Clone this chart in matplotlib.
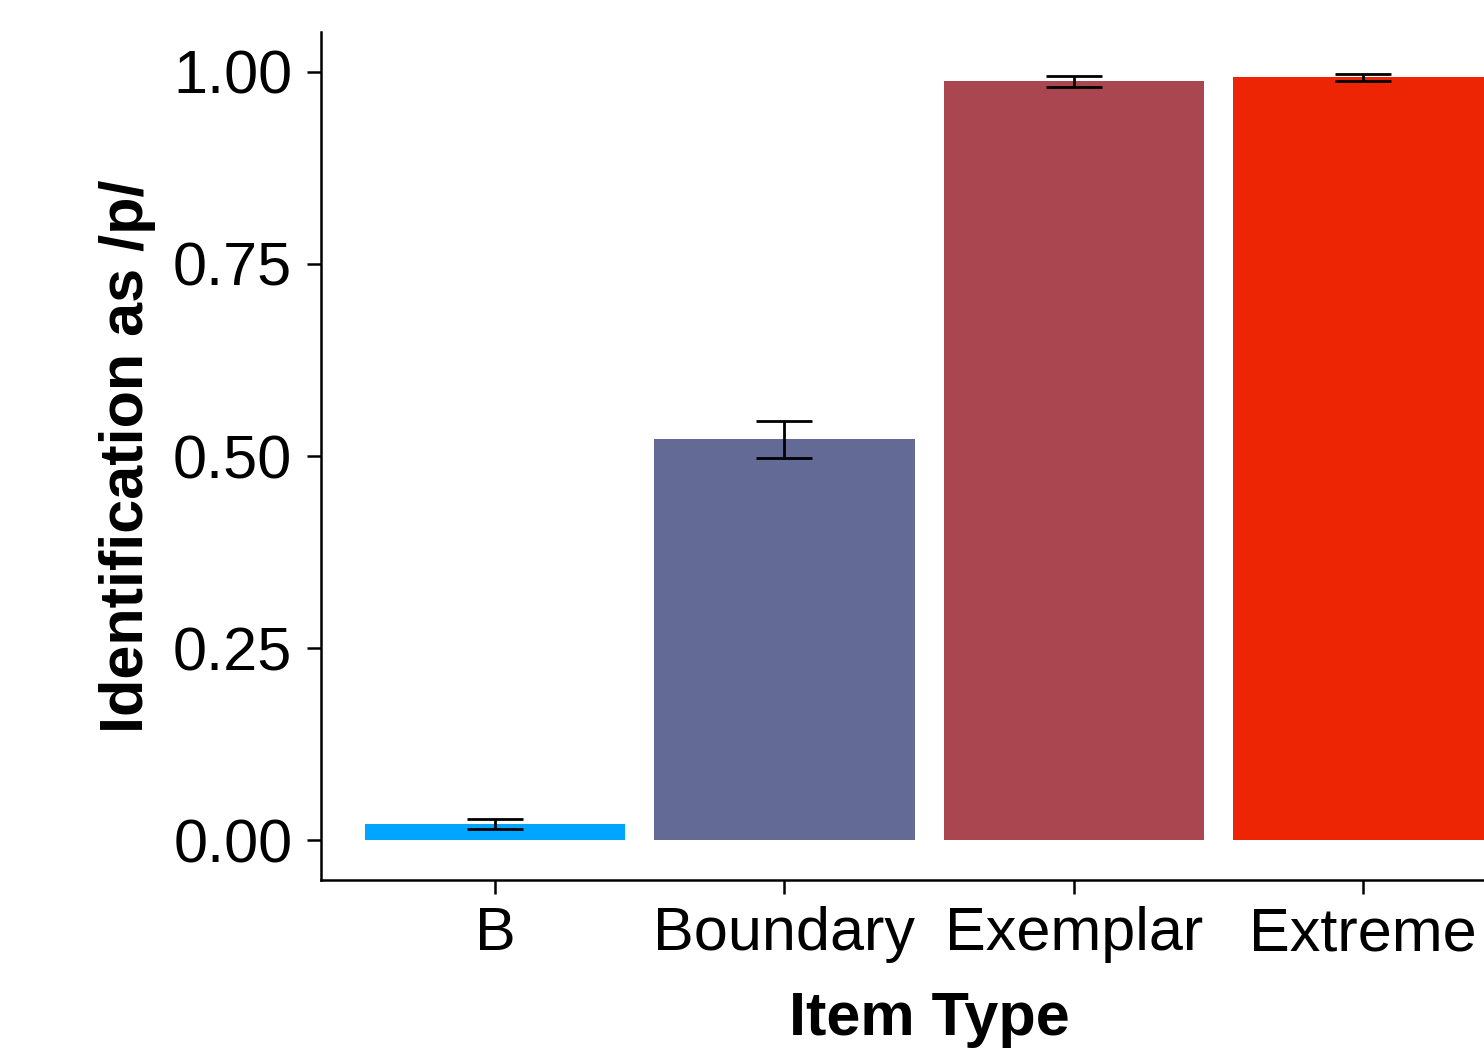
import matplotlib
matplotlib.use("Agg")
import matplotlib.pyplot as plt
import numpy as np

plt.rcParams['font.family'] = ['Liberation Sans', 'DejaVu Sans']

## Data
item_types = ["B", "Boundary", "Exemplar", "Extreme"]
mean_p = [0.021, 0.522, 0.988, 0.993]
se_p = [0.006, 0.024, 0.007, 0.005]
bar_colors = ["#00A5FF", "#636A95", "#A9464F", "#EE2505"]

fig = plt.figure(figsize=(14.84, 10.5), dpi=100)
ax = fig.add_axes([0.2166, 0.1619, 0.8189, 0.8076])

x = np.arange(1, len(item_types) + 1)
ax.bar(x, mean_p, width=0.9, color=bar_colors, zorder=2)
ax.errorbar(x, mean_p, yerr=se_p, fmt="none", ecolor="black",
            elinewidth=2.0, capsize=20.5, capthick=2.0, zorder=3)

ax.set_xlim(0.4, 4.6)
ax.set_ylim(-0.052, 1.052)
ax.set_xticks(x)
ax.set_xticklabels(item_types)
ax.set_yticks([0, 0.25, 0.5, 0.75, 1.0])
ax.set_yticklabels(["0.00", "0.25", "0.50", "0.75", "1.00"])

for s in ["top", "right"]:
    ax.spines[s].set_visible(False)
for s in ["left", "bottom"]:
    ax.spines[s].set_linewidth(1.8)

ax.tick_params(axis="both", labelsize=44, length=10, width=1.8, colors="black")
ax.tick_params(axis="y", pad=11)
ax.tick_params(axis="x", pad=9)

ax.set_xlabel("Item Type", fontsize=44, fontweight="bold", labelpad=20)
ax.set_ylabel("Identification as /p/", fontsize=44, fontweight="bold", labelpad=12)

fig.savefig("out.png", dpi=100)
